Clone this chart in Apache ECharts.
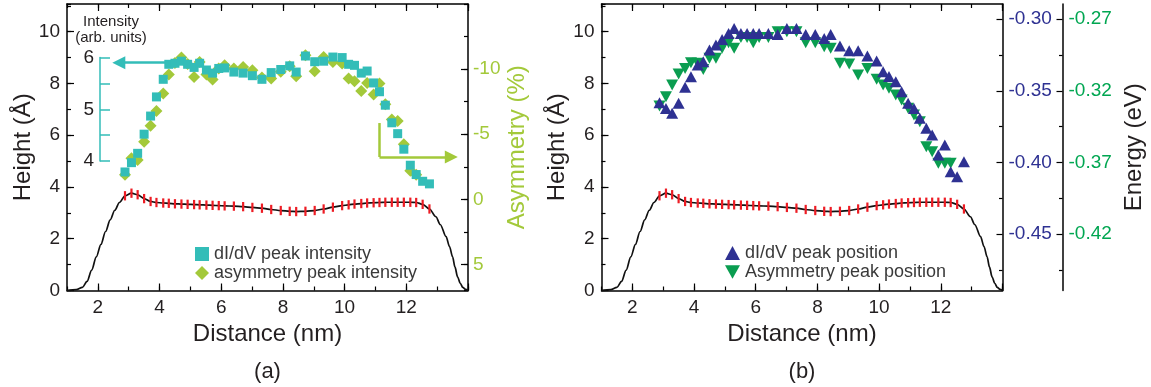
<!DOCTYPE html>
<html><head><meta charset="utf-8">
<script src="https://cdn.jsdelivr.net/npm/echarts@6/dist/echarts.min.js"></script>
<style>html,body{margin:0;padding:0;background:#fff}#c{width:1151px;height:387px}</style>
</head><body><div id="c"></div>
<script>
// ---------- DATA ----------
const posX = [2.88,3.09,3.29,3.50,3.71,3.90,4.12,4.30,4.50,4.71,4.91,5.12,5.30,5.52,5.72,5.92,6.11,6.41,6.71,7.01,7.32,7.62,7.93,8.22,8.43,8.73,9.03,9.32,9.62,9.92,10.13,10.32,10.54,10.73,10.94,11.13,11.32,11.53,11.72,11.92,12.13,12.32,12.53,12.75];
const profileH = [3.66,3.76,3.70,3.55,3.44,3.40,3.38,3.37,3.35,3.34,3.33,3.32,3.31,3.30,3.29,3.28,3.27,3.26,3.24,3.21,3.18,3.13,3.09,3.06,3.05,3.06,3.09,3.15,3.22,3.28,3.31,3.34,3.36,3.38,3.39,3.40,3.41,3.41,3.41,3.41,3.41,3.40,3.33,3.15];
const profileErr = [0.18,0.18,0.18,0.18,0.18,0.18,0.18,0.18,0.18,0.18,0.18,0.18,0.18,0.18,0.18,0.18,0.18,0.18,0.18,0.18,0.18,0.18,0.18,0.18,0.18,0.18,0.18,0.18,0.18,0.18,0.18,0.18,0.18,0.18,0.18,0.18,0.18,0.18,0.18,0.18,0.18,0.18,0.18,0.18];
const tailLeftX = [1.0,1.3,1.5,1.65,1.8,1.95,2.1,2.25,2.4,2.55,2.7];
const tailLeftH = [0,0.03,0.12,0.35,0.79,1.3,1.78,2.28,2.73,3.1,3.4];
const tailRightX = [12.96,13.1,13.29,13.4,13.5,13.58,13.66,13.75,13.83,13.92,14.0];
const tailRightH = [2.85,2.55,2.08,1.7,1.3,0.9,0.53,0.28,0.12,0.04,0];
// dI/dV peak intensity (arb. units), at posX
const sqIntensity = [3.79,3.97,4.15,4.52,4.87,5.24,5.58,5.87,5.89,5.93,5.87,5.81,5.89,5.76,5.70,5.79,5.80,5.72,5.70,5.65,5.58,5.71,5.77,5.84,5.72,6.03,5.92,5.93,6.01,6.00,5.87,5.85,5.70,5.74,5.51,5.34,5.08,4.74,4.53,4.23,3.92,3.74,3.61,3.56];
// asymmetry peak intensity (%), at posX (first 42)
const asymPct = [-1.88,-3.16,-3.03,-4.43,-5.65,-6.78,-8.13,-9.59,-10.47,-10.89,-10.4,-9.40,-10.55,-9.59,-9.20,-10.05,-10.30,-10.05,-10.17,-9.92,-9.36,-9.28,-9.79,-10.22,-9.46,-11.06,-9.84,-10.93,-10.55,-10.43,-9.28,-9.07,-8.31,-8.94,-8.06,-8.90,-7.31,-6.14,-6.01,-4.23,-2.19,-1.88];
// dI/dV peak position (eV), at posX
const dIdVPos = [-0.3584,-0.3623,-0.3657,-0.3588,-0.3476,-0.3402,-0.3321,-0.3298,-0.3216,-0.3181,-0.3142,-0.3100,-0.3065,-0.3100,-0.3100,-0.3100,-0.3100,-0.3100,-0.3107,-0.3065,-0.3065,-0.3107,-0.3107,-0.3135,-0.3107,-0.3188,-0.3221,-0.3221,-0.3258,-0.3293,-0.3367,-0.3400,-0.3437,-0.3507,-0.3588,-0.3623,-0.3692,-0.3762,-0.3809,-0.3948,-0.3878,-0.4064,-0.4099,-0.3995];
// Asymmetry peak position (eV), at posX (first 42)
const asymPos = [-0.3307,-0.3242,-0.3160,-0.3083,-0.3044,-0.3005,-0.3009,-0.3051,-0.2974,-0.2974,-0.2904,-0.2865,-0.2904,-0.2828,-0.2828,-0.2865,-0.2828,-0.2828,-0.2789,-0.2789,-0.2789,-0.2865,-0.2865,-0.2893,-0.2904,-0.3009,-0.3014,-0.3090,-0.3044,-0.3120,-0.3160,-0.3183,-0.3230,-0.3265,-0.3322,-0.3369,-0.3416,-0.3590,-0.3625,-0.3706,-0.3706,-0.3706];

// tick labels
const xLabels = [2,4,6,8,10,12];
const xMajorTicks = [2,4,6,8,10,12,14];
const hLabels = [0,2,4,6,8,10];
const asymLabels = [-10,-5,0,5];
const intensityLabels = [4,5,6];
const blueLabels = [-0.45,-0.40,-0.35,-0.30];
const blueMinor = [-0.475,-0.425,-0.375,-0.325];
const greenLabels = [-0.42,-0.37,-0.32,-0.27];
const greenMinor = [-0.445,-0.395,-0.345,-0.295];

// axis ranges
const X_MIN = 1, X_MAX = 14;
const H_MIN = 0, H_MAX = 11.07;
const A_MIN = -15, A_MAX = 7;
const I_MIN = 1.5, I_MAX = 7.035;
const EB_MIN = -0.4893, EB_MAX = -0.2895;
const EG_MIN = -0.4593, EG_MAX = -0.2595;

// ---------- STYLE ----------
const FONT = '"Liberation Sans", Arial, sans-serif';
const TXT = '#231f20';
const TEAL = '#33bdb8';
const YG = '#a3c93a';
const NAVY = '#2e3192';
const GREEN = '#0a9d50';
const GREENTXT = '#00a651';
const RED = '#ed1c24';

const GT = 4, GH = 286.5, GW = 401;
const GA_L = 67, GB_L = 601.5;

const curveData = [];
tailLeftX.forEach((x,i)=>curveData.push([x, tailLeftH[i]]));
posX.forEach((x,i)=>curveData.push([x, profileH[i]]));
tailRightX.forEach((x,i)=>curveData.push([x, tailRightH[i]]));
const errData = posX.map((x,i)=>[x, profileH[i], profileErr[i]]);

const lineBlk = {color:'#000', width:1.5};
function xAxes(grid){
  const base = {type:'value', gridIndex:grid, min:X_MIN, max:X_MAX, splitLine:{show:false}};
  return [
    Object.assign({}, base, {position:'bottom', interval:1,
      axisLine:{onZero:false, lineStyle:lineBlk},
      axisTick:{inside:true, length:4, lineStyle:{color:'#000', width:1.2}},
      axisLabel:{customValues:xLabels, fontSize:19, color:TXT, margin:8, fontFamily:FONT},
      name:'Distance (nm)', nameLocation:'middle', nameGap:31,
      nameTextStyle:{fontSize:24, color:TXT, fontFamily:FONT}}),
    Object.assign({}, base, {position:'bottom',
      axisLine:{show:false, onZero:false},
      axisTick:{inside:true, length:7, customValues:xMajorTicks, lineStyle:{color:'#000', width:1.2}},
      axisLabel:{show:false}}),
    Object.assign({}, base, {position:'top', interval:1,
      axisLine:{onZero:false, lineStyle:lineBlk},
      axisTick:{inside:true, length:4, lineStyle:{color:'#000', width:1.2}},
      axisLabel:{show:false}}),
    Object.assign({}, base, {position:'top',
      axisLine:{show:false, onZero:false},
      axisTick:{inside:true, length:7, customValues:xMajorTicks, lineStyle:{color:'#000', width:1.2}},
      axisLabel:{show:false}})
  ];
}
function hAxes(grid){
  const base = {type:'value', gridIndex:grid, min:H_MIN, max:H_MAX, position:'left', splitLine:{show:false}};
  return [
    Object.assign({}, base, {interval:1,
      axisLine:{onZero:false, lineStyle:lineBlk},
      axisTick:{inside:true, length:4, lineStyle:{color:'#000', width:1.2}},
      axisLabel:{customValues:hLabels, fontSize:19, color:TXT, margin:7, fontFamily:FONT},
      name:'Height (\u00c5)', nameLocation:'middle', nameGap:29,
      nameTextStyle:{fontSize:24, color:TXT, fontFamily:FONT}}),
    Object.assign({}, base, {
      axisLine:{show:false, onZero:false},
      axisTick:{inside:true, length:7, customValues:hLabels, lineStyle:{color:'#000', width:1.2}},
      axisLabel:{show:false}})
  ];
}

const xAxis = [].concat(xAxes(0), xAxes(1), [{type:'value', gridIndex:2, min:0, max:1, show:false}]);
// yAxis indices: 0,1 height A; 2,3 asym; 4 intensity hidden; 5,6 height B; 7,8 blue; 9,10 green; 11 intensity decoration
const yAxis = [].concat(
  hAxes(0),
  [
    {type:'value', gridIndex:0, position:'right', inverse:true, min:A_MIN, max:A_MAX, interval:2.5, splitLine:{show:false},
     axisLine:{onZero:false, lineStyle:lineBlk},
     axisTick:{inside:true, length:4, lineStyle:{color:'#000', width:1.2}},
     axisLabel:{customValues:asymLabels, fontSize:19, color:YG, margin:5, fontFamily:FONT},
     name:'Asymmetry (%)', nameLocation:'middle', nameGap:37,
     nameTextStyle:{fontSize:24, color:YG, fontFamily:FONT}},
    {type:'value', gridIndex:0, position:'right', inverse:true, min:A_MIN, max:A_MAX, splitLine:{show:false},
     axisLine:{show:false, onZero:false},
     axisTick:{inside:true, length:7, customValues:asymLabels, lineStyle:{color:'#000', width:1.2}},
     axisLabel:{show:false}},
    {type:'value', gridIndex:0, position:'left', min:I_MIN, max:I_MAX, show:false}
  ],
  hAxes(1),
  [
    {type:'value', gridIndex:1, position:'right', min:EB_MIN, max:EB_MAX, splitLine:{show:false},
     axisLine:{onZero:false, lineStyle:lineBlk},
     axisTick:{inside:true, length:6, customValues:blueLabels, lineStyle:{color:'#000', width:1.2}},
     axisLabel:{customValues:blueLabels, fontSize:19, color:NAVY, margin:6, fontFamily:FONT, formatter:v=>Number(v).toFixed(2)}},
    {type:'value', gridIndex:1, position:'right', min:EB_MIN, max:EB_MAX, splitLine:{show:false},
     axisLine:{show:false, onZero:false},
     axisTick:{inside:true, length:3.5, customValues:blueMinor, lineStyle:{color:'#000', width:1.2}},
     axisLabel:{show:false}},
    {type:'value', gridIndex:1, position:'right', offset:60, min:EG_MIN, max:EG_MAX, splitLine:{show:false},
     axisLine:{onZero:false, lineStyle:lineBlk},
     axisTick:{inside:true, length:6, customValues:greenLabels, lineStyle:{color:'#000', width:1.2}},
     axisLabel:{customValues:greenLabels, fontSize:19, color:GREENTXT, margin:6, fontFamily:FONT, formatter:v=>Number(v).toFixed(2)},
     name:'Energy (eV)', nameLocation:'middle', nameGap:60,
     nameTextStyle:{fontSize:24, color:TXT, fontFamily:FONT}},
    {type:'value', gridIndex:1, position:'right', offset:60, min:EG_MIN, max:EG_MAX, splitLine:{show:false},
     axisLine:{show:false, onZero:false},
     axisTick:{inside:true, length:3.5, customValues:greenMinor, lineStyle:{color:'#000', width:1.2}},
     axisLabel:{show:false}},
    {type:'value', gridIndex:2, position:'left', min:4, max:6, interval:0.5, splitLine:{show:false},
     axisLine:{onZero:false, lineStyle:{color:TEAL, width:1.5}},
     axisTick:{inside:true, length:10, lineStyle:{color:TEAL, width:1.5}},
     axisLabel:{customValues:intensityLabels, fontSize:19, color:TXT, margin:6, fontFamily:FONT}}
  ]
);

const gCTop = GT + (I_MAX-6)/(I_MAX-I_MIN)*GH;
const gCH = (6-4)/(I_MAX-I_MIN)*GH;

function errSeries(xi, yi){
  return {type:'custom', coordinateSystem:'cartesian2d', xAxisIndex:xi, yAxisIndex:yi, data:errData, z:4,
    encode:{x:0, y:1},
    renderItem:(params, api)=>{
      const x = api.value(0), y = api.value(1), e = api.value(2);
      const a = api.coord([x, y-e]), b = api.coord([x, y+e]);
      return {type:'line', shape:{x1:a[0], y1:a[1], x2:b[0], y2:b[1]}, style:{stroke:RED, lineWidth:2.2}};
    }};
}
function curveSeries(xi, yi){
  return {type:'line', xAxisIndex:xi, yAxisIndex:yi, data:curveData, smooth:0.3, smoothMonotone:'x',
    symbol:'none', lineStyle:{color:'#111', width:1.7}, z:3};
}

const option = {
  animation:false,
  backgroundColor:'#fff',
  textStyle:{fontFamily:FONT},
  grid:[
    {left:GA_L, top:GT, width:GW, height:GH, containLabel:false, outerBoundsMode:'none'},
    {left:GB_L, top:GT, width:GW, height:GH, containLabel:false, outerBoundsMode:'none'},
    {left:100, top:gCTop, width:10, height:gCH, containLabel:false, outerBoundsMode:'none'}
  ],
  xAxis, yAxis,
  legend:[
    {data:['dI/dV peak intensity','asymmetry peak intensity'], orient:'vertical', left:190, top:240,
     itemWidth:14, itemHeight:14, itemGap:1, selectedMode:false, textStyle:{fontSize:18, color:'#3a3a3a', fontFamily:FONT}},
    {data:['dI/dV peak position','Asymmetry peak position'], orient:'vertical', left:720, top:239,
     itemWidth:15, itemHeight:14, itemGap:1, selectedMode:false, textStyle:{fontSize:18, color:'#3a3a3a', fontFamily:FONT}}
  ],
  graphic:[
    {type:'text', x:111, y:22, style:{text:'Intensity', font:'15px "Liberation Sans", Arial', fill:TXT, align:'center', verticalAlign:'middle', textAlign:'center', textVerticalAlign:'middle'}},
    {type:'text', x:111, y:38, style:{text:'(arb. units)', font:'15px "Liberation Sans", Arial', fill:TXT, align:'center', verticalAlign:'middle', textAlign:'center', textVerticalAlign:'middle'}},
    {type:'text', x:GA_L+GW/2, y:372, style:{text:'(a)', font:'22px "Liberation Sans", Arial', fill:TXT, align:'center', verticalAlign:'middle', textAlign:'center', textVerticalAlign:'middle'}},
    {type:'text', x:GB_L+GW/2, y:372, style:{text:'(b)', font:'22px "Liberation Sans", Arial', fill:TXT, align:'center', verticalAlign:'middle', textAlign:'center', textVerticalAlign:'middle'}}
  ],
  series:[
    curveSeries(0,0),
    errSeries(0,0),
    {name:'asymmetry peak intensity', type:'scatter', xAxisIndex:0, yAxisIndex:2,
     data:asymPct.map((v,i)=>[posX[i], v]), symbol:'diamond', symbolSize:[12,12],
     itemStyle:{color:YG, opacity:1}, z:5,
     markLine:{silent:true, label:{show:false}, lineStyle:{color:YG, width:2.5, type:'solid', opacity:1}, symbolSize:[13,13],
       data:[
         [{coord:[11.13,-5.86], symbol:'none'}, {coord:[11.13,-3.25], symbol:'none'}],
         [{coord:[11.13,-3.25], symbol:'none'}, {coord:[13.46,-3.25], symbol:'triangle'}]
       ]}},
    {name:'dI/dV peak intensity', type:'scatter', xAxisIndex:0, yAxisIndex:4,
     data:sqIntensity.map((v,i)=>[posX[i], v]), symbol:'rect', symbolSize:9,
     itemStyle:{color:TEAL, opacity:1}, z:6,
     markLine:{silent:true, label:{show:false}, lineStyle:{color:TEAL, width:2.5, type:'solid', opacity:1}, symbolSize:[13,13],
       data:[
         [{coord:[4.24,5.9], symbol:'none'}, {coord:[2.68,5.9], symbol:'triangle'}]
       ]}},
    curveSeries(4,5),
    errSeries(4,5),
    {name:'Asymmetry peak position', type:'scatter', xAxisIndex:4, yAxisIndex:9,
     data:asymPos.map((v,i)=>[posX[i], v]), symbol:'path://M0,0 L10,0 L5,9 Z', symbolSize:[12,11],
     itemStyle:{color:GREEN, opacity:1}, z:5},
    {name:'dI/dV peak position', type:'scatter', xAxisIndex:4, yAxisIndex:7,
     data:dIdVPos.map((v,i)=>[posX[i], v]), symbol:'triangle', symbolSize:[12,11],
     itemStyle:{color:NAVY, opacity:1}, z:6}
  ]
};
const chart = echarts.init(document.getElementById('c'), null, {renderer:'canvas'});
chart.setOption(option);
</script></body></html>
